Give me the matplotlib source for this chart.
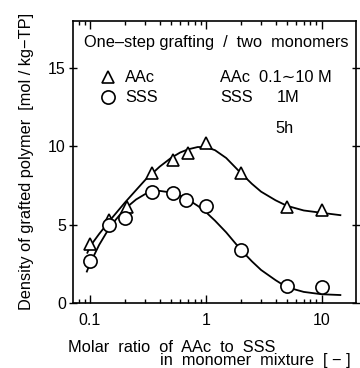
import numpy as np
import matplotlib
matplotlib.use("Agg")
import matplotlib.pyplot as plt

plt.rcParams["font.family"] = ["Liberation Sans", "DejaVu Sans"]

# measured points
ratio = [0.1, 0.146, 0.207, 0.34, 0.52, 0.70, 1.0, 2.0, 5.0, 10.0]
aac = [3.75, 5.3, 6.15, 8.3, 9.1, 9.55, 10.2, 8.3, 6.1, 5.9]

ratio_sss = [0.1, 0.146, 0.2, 0.34, 0.52, 0.67, 1.0, 2.0, 5.0, 10.0]
sss = [2.7, 5.0, 5.45, 7.05, 7.0, 6.6, 6.2, 3.35, 1.1, 1.0]

# fitted curves
curve_x_aac = [0.095, 0.1, 0.12, 0.15, 0.2, 0.25, 0.3, 0.4, 0.5, 0.6, 0.7, 0.85, 1.0,
               1.2, 1.5, 2.0, 2.5, 3.0, 4.0, 5.0, 7.0, 10.0, 14.5]
curve_y_aac = [3.2, 3.6, 4.4, 5.3, 6.4, 7.2, 7.85, 8.7, 9.25, 9.6, 9.8, 9.95, 9.95,
               9.75, 9.25, 8.3, 7.6, 7.1, 6.55, 6.2, 5.9, 5.75, 5.6]
curve_x_sss = [0.094, 0.1, 0.12, 0.15, 0.2, 0.25, 0.3, 0.4, 0.5, 0.6, 0.7, 0.85, 1.0,
               1.2, 1.5, 2.0, 2.5, 3.0, 4.0, 5.0, 7.0, 10.0, 14.5]
curve_y_sss = [2.0, 2.5, 3.7, 4.9, 6.0, 6.6, 6.95, 7.15, 7.05, 6.85, 6.6, 6.2, 5.8,
               5.25, 4.5, 3.4, 2.65, 2.1, 1.45, 1.0, 0.7, 0.55, 0.5]

fig = plt.figure(figsize=(3.6, 3.68), dpi=100)
ax = fig.add_axes([0.202, 0.177, 0.787, 0.766])

ax.plot(curve_x_aac, curve_y_aac, color="black", lw=1.3)
ax.plot(curve_x_sss, curve_y_sss, color="black", lw=1.3)
ax.plot(ratio, aac, ls="none", marker="^", ms=8.5, mfc="white", mec="black", mew=1.2)
ax.plot(ratio_sss, sss, ls="none", marker="o", ms=9.5, mfc="white", mec="black", mew=1.2)

ax.set_xscale("log")
ax.set_xlim(0.071, 19.8)
ax.set_ylim(0, 18)
ax.set_xticks([0.1, 1, 10])
ax.set_xticklabels(["0.1", "1", "10"])
ax.set_yticks([0, 5, 10, 15])
ax.tick_params(axis="x", which="both", direction="in", top=True, labelsize=11.5, pad=7)
ax.tick_params(axis="x", which="major", length=6, width=1)
ax.tick_params(axis="x", which="minor", length=3, width=1)
ax.tick_params(axis="y", direction="inout", right=True, length=6, width=1, labelsize=11.5, pad=2)
for s in ax.spines.values():
    s.set_linewidth(1.2)

fs = 11.8
ax.text(0.04, 0.922, "One\u2013step grafting  /  two  monomers", transform=ax.transAxes,
        fontsize=fs, va="center", ha="left")
ax.plot([0.125], [0.801], transform=ax.transAxes, marker="^", ms=8.5, mfc="white", mec="black", mew=1.2)
ax.plot([0.125], [0.730], transform=ax.transAxes, marker="o", ms=9.5, mfc="white", mec="black", mew=1.2)
ax.text(0.185, 0.801, "AAc", transform=ax.transAxes, fontsize=fs, va="center")
ax.text(0.185, 0.730, "SSS", transform=ax.transAxes, fontsize=fs, va="center")
ax.text(0.52, 0.801, "AAc  0.1\u223c10 M", transform=ax.transAxes, fontsize=fs, va="center")
ax.text(0.52, 0.730, "SSS", transform=ax.transAxes, fontsize=fs, va="center")
ax.text(0.72, 0.730, "1M", transform=ax.transAxes, fontsize=fs, va="center")
ax.text(0.714, 0.62, "5h", transform=ax.transAxes, fontsize=fs, va="center")

ax.set_ylabel("Density of grafted polymer  [mol / kg\u2212TP]", fontsize=11.8, labelpad=10)
fig.text(0.19, 0.057, "Molar  ratio  of  AAc  to  SSS", fontsize=fs, va="center")
fig.text(0.975, 0.02, "in  monomer  mixture  [ \u2212 ]", fontsize=fs, va="center", ha="right")

fig.savefig("out.png", dpi=100)
